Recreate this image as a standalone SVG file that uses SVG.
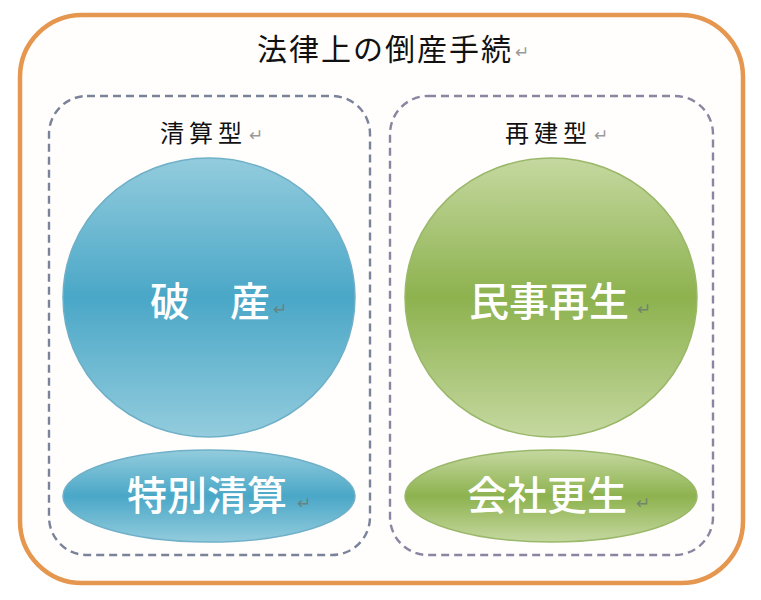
<svg xmlns="http://www.w3.org/2000/svg" width="761" height="600" viewBox="0 0 761 600">
<style>
.jp{font-family:"Noto Sans CJK JP","Noto Sans CJK SC",sans-serif;}
.ttl{font-size:30px;fill:#111;letter-spacing:2px;}
.sub{font-size:24px;fill:#111;letter-spacing:5px;}
.big{font-size:40px;fill:#fff;font-weight:500;}
.ret{font-family:"DejaVu Sans",sans-serif;font-size:17px;fill:#999;}
.retd{font-family:"DejaVu Sans",sans-serif;font-size:17px;fill:#6a7a70;opacity:0.8;}
.dash{fill:none;stroke-width:2.4;stroke-dasharray:8 5;}
</style>
<defs>
<linearGradient id="gBlue" x1="0" y1="0" x2="0" y2="1">
<stop offset="0" stop-color="#93CCDD"/>
<stop offset="0.5" stop-color="#4AA7C7"/>
<stop offset="1" stop-color="#93CCDD"/>
</linearGradient>
<linearGradient id="gGreen" x1="0" y1="0" x2="0" y2="1">
<stop offset="0" stop-color="#C5D8A0"/>
<stop offset="0.5" stop-color="#8DB24E"/>
<stop offset="1" stop-color="#C5D8A0"/>
</linearGradient>
</defs>
<rect x="0" y="0" width="761" height="600" fill="#ffffff"/>
<g id="outer">
<rect x="20" y="15" width="723" height="568" rx="62" ry="62" fill="#fffefc" stroke="#E5964F" stroke-width="4.5"/>
<text class="jp ttl" x="257" y="60">法律上の倒産手続</text>
<text class="ret" x="515" y="58">↵</text>
</g>
<g id="seisan">
<rect class="dash" x="49" y="96" width="321" height="459" rx="38" ry="38" stroke="#7A8399"/>
<text class="jp sub" x="160" y="142">清算型</text>
<text class="ret" x="249" y="141">↵</text>
</g>
<g id="saiken">
<rect class="dash" x="390" y="96" width="323" height="459" rx="38" ry="38" stroke="#8A86A2"/>
<text class="jp sub" x="505" y="142">再建型</text>
<text class="ret" x="594" y="141">↵</text>
</g>
<g id="hasan">
<ellipse cx="209" cy="297.5" rx="146" ry="139.5" fill="url(#gBlue)" stroke="#6FB0C8" stroke-width="1.5"/>
<text class="jp big" x="150" y="316">破　産</text>
<text class="retd" x="273" y="315">↵</text>
</g>
<g id="minji">
<ellipse cx="551" cy="297.5" rx="146" ry="139.5" fill="url(#gGreen)" stroke="#9AB86A" stroke-width="1.5"/>
<text class="jp big" x="469" y="316">民事再生</text>
<text class="retd" x="637" y="315">↵</text>
</g>
<g id="tokubetsu">
<ellipse cx="209" cy="496" rx="146" ry="46" fill="url(#gBlue)" stroke="#6FB0C8" stroke-width="1.5"/>
<text class="jp big" x="127" y="510">特別清算</text>
<text class="retd" x="297" y="509">↵</text>
</g>
<g id="kaisha">
<ellipse cx="551" cy="496" rx="146" ry="46" fill="url(#gGreen)" stroke="#9AB86A" stroke-width="1.5"/>
<text class="jp big" x="467" y="510">会社更生</text>
<text class="retd" x="636" y="509">↵</text>
</g>
<g id="connectors"></g>
</svg>
